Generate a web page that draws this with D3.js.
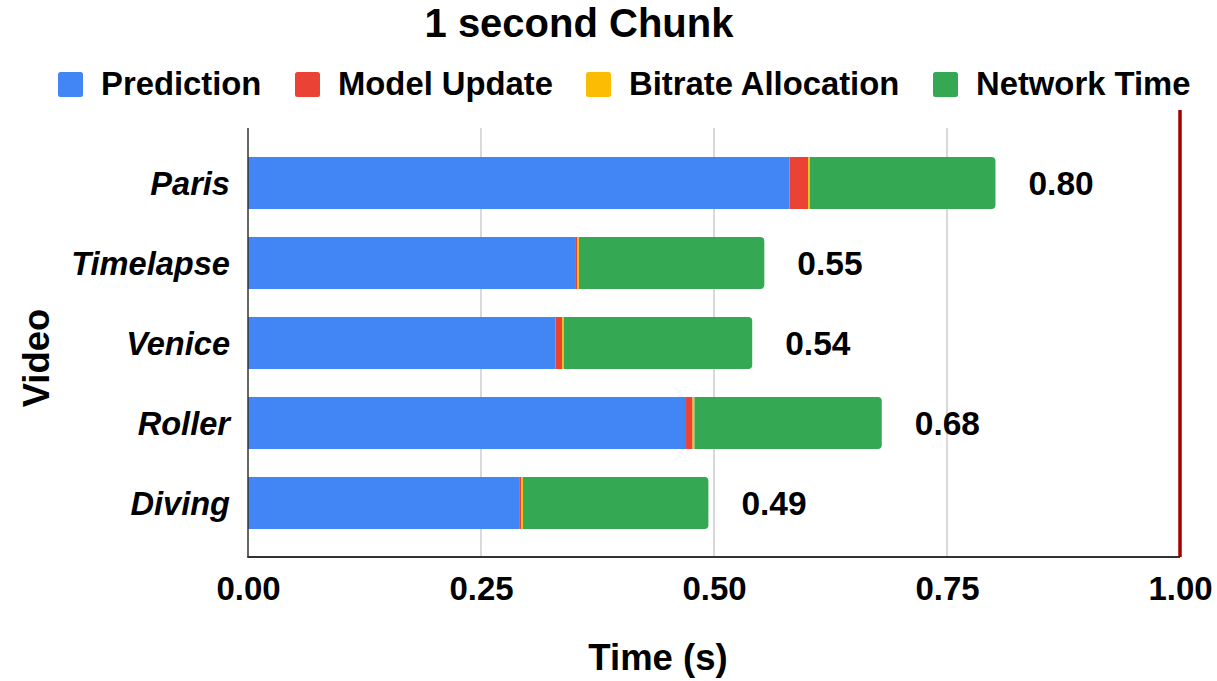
<!DOCTYPE html>
<html><head><meta charset="utf-8">
<script src="https://cdn.jsdelivr.net/npm/d3@7"></script>
<style>
html,body{margin:0;padding:0;background:#fff;}
svg{display:block;font-family:"Liberation Sans",Arial,sans-serif;}
</style></head>
<body>
<svg id="chart" width="1217" height="681"></svg>
<script>
const categories = ["Paris","Timelapse","Venice","Roller","Diving"];
const seriesNames = ["Prediction","Model Update","Bitrate Allocation","Network Time"];
const prediction  = [0.581, 0.351, 0.330, 0.470, 0.291];
const modelUpdate = [0.020, 0.002, 0.007, 0.007, 0.002];
const bitrateAlloc= [0.002, 0.002, 0.002, 0.002, 0.002];
const networkTime = [0.199, 0.199, 0.202, 0.201, 0.199];
const xTicks = [0, 0.25, 0.5, 0.75, 1.0];
const colors = ["#4285F4","#EA4335","#FBBC04","#34A853"];

const svg = d3.select("#chart");
const x = d3.scaleLinear().domain([0,1]).range([248,1180]);
const y = d3.scaleBand().domain(categories).range([143,543]).paddingInner(0.35).paddingOuter(0.175);
const plotTop = 128, plotBottom = 557;

const rows = categories.map((c,i)=>({cat:c, vals:[prediction[i],modelUpdate[i],bitrateAlloc[i],networkTime[i]]}));
rows.forEach(r=>{ r.total = d3.sum(r.vals); });

// gridlines
svg.append("g").selectAll("line").data(xTicks.filter(t=>t>0 && t<1)).join("line")
  .attr("x1",d=>x(d)).attr("x2",d=>x(d)).attr("y1",plotTop).attr("y2",plotBottom)
  .attr("stroke","#cccccc").attr("stroke-width",1.5);

// bars
const g = svg.append("g");
rows.forEach(r=>{
  let acc = 0;
  r.vals.forEach((v,k)=>{
    const x0 = x(acc), x1 = x(acc+v);
    const yy = y(r.cat), h = y.bandwidth();
    if(k === r.vals.length-1){
      const rr = 4;
      const p = `M${x0},${yy} L${x1-rr},${yy} Q${x1},${yy} ${x1},${yy+rr} L${x1},${yy+h-rr} Q${x1},${yy+h} ${x1-rr},${yy+h} L${x0},${yy+h} Z`;
      g.append("path").attr("d",p).attr("fill",colors[k]);
    } else {
      g.append("rect").attr("x",x0).attr("y",yy).attr("width",Math.max(0,x1-x0)).attr("height",h).attr("fill",colors[k]);
    }
    acc += v;
  });
});

// value labels
svg.append("g").selectAll("text").data(rows).join("text")
  .attr("x",d=>x(d.total)+33).attr("y",d=>y(d.cat)+y.bandwidth()/2)
  .attr("dy","0.36em").attr("font-size",33.5).attr("font-weight","bold").attr("fill","#000")
  .text(d=>d.total.toFixed(2));

// axes lines
svg.append("line").attr("x1",x(0)).attr("x2",x(0)).attr("y1",plotTop).attr("y2",plotBottom)
  .attr("stroke","#333").attr("stroke-width",1.5);
svg.append("line").attr("x1",x(0)-0.75).attr("x2",x(1)).attr("y1",plotBottom).attr("y2",plotBottom)
  .attr("stroke","#333").attr("stroke-width",2);
// red 1.0 line
svg.append("line").attr("x1",x(1)).attr("x2",x(1)).attr("y1",110).attr("y2",plotBottom)
  .attr("stroke","#a50000").attr("stroke-width",3.5);

// x axis tick labels
const xAxis = d3.axisBottom(x).tickValues(xTicks).tickFormat(d3.format(".2f")).tickSize(0).tickPadding(0);
const xa = svg.append("g").attr("transform",`translate(0,${plotBottom})`).call(xAxis);
xa.select(".domain").remove();
xa.selectAll("text").attr("y",43).attr("dy",0).attr("font-size",33).attr("font-weight","bold")
  .attr("fill","#000").attr("font-family","Liberation Sans, Arial, sans-serif");

// y axis labels
const yAxis = d3.axisLeft(y).tickSize(0).tickPadding(18);
const ya = svg.append("g").attr("transform",`translate(${x(0)},0)`).call(yAxis);
ya.select(".domain").remove();
ya.selectAll("text").attr("font-size",32.6).attr("font-weight","bold").attr("font-style","italic")
  .attr("fill","#000").attr("font-family","Liberation Sans, Arial, sans-serif").attr("dy","0.36em");

// axis titles
svg.append("text").attr("x",658).attr("y",670).attr("text-anchor","middle")
  .attr("font-size",36.5).attr("font-weight","bold").text("Time (s)");
svg.append("text").attr("transform","translate(49,358) rotate(-90)").attr("text-anchor","middle")
  .attr("font-size",36.5).attr("font-weight","bold").text("Video");

// title
svg.append("text").attr("x",579).attr("y",37).attr("text-anchor","middle")
  .attr("font-size",40).attr("font-weight","bold").text("1 second Chunk");

// legend
const legendX = [58, 295, 586, 933];
const lg = svg.append("g");
seriesNames.forEach((n,i)=>{
  lg.append("rect").attr("x",legendX[i]).attr("y",72).attr("width",25).attr("height",25).attr("rx",2.5).attr("fill",colors[i]);
  lg.append("text").attr("x",legendX[i]+43).attr("y",95).attr("font-size",32.8).attr("font-weight","bold").text(n);
});
</script>
</body></html>
